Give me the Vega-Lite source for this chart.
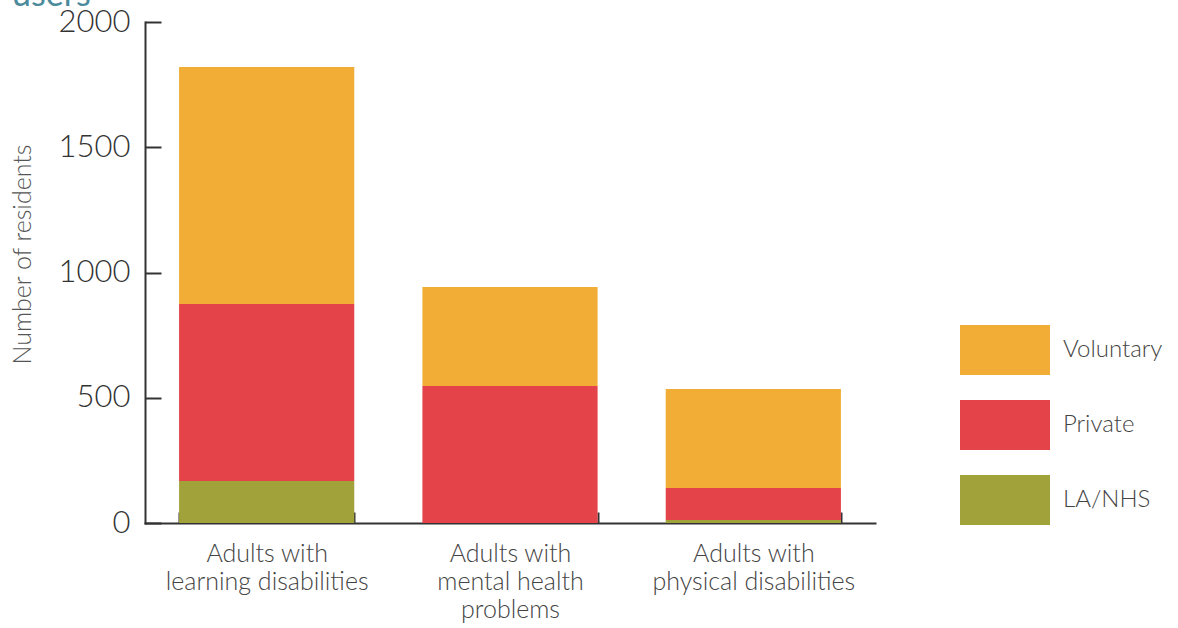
{
  "$schema": "https://vega.github.io/schema/vega-lite/v6.json",
  "width": 730,
  "height": 501,
  "autosize": "none",
  "padding": {"left": 145, "top": 22, "right": 303, "bottom": 105},
  "background": "white",
  "title": {
    "text": "users",
    "anchor": "start",
    "frame": "group",
    "orient": "top",
    "baseline": "alphabetic",
    "offset": 0,
    "dy": 34,
    "dx": -133,
    "fontSize": 34,
    "font": "Lato",
    "fontWeight": "normal",
    "color": "#4A8A9B"
  },
  "data": {
    "values": [
      {"group": "Adults with learning disabilities", "sector": "LA/NHS", "order": 1, "residents": 168},
      {"group": "Adults with learning disabilities", "sector": "Private", "order": 2, "residents": 706},
      {"group": "Adults with learning disabilities", "sector": "Voluntary", "order": 3, "residents": 946},
      {"group": "Adults with mental health problems", "sector": "LA/NHS", "order": 1, "residents": 0},
      {"group": "Adults with mental health problems", "sector": "Private", "order": 2, "residents": 547},
      {"group": "Adults with mental health problems", "sector": "Voluntary", "order": 3, "residents": 395},
      {"group": "Adults with physical disabilities", "sector": "LA/NHS", "order": 1, "residents": 12},
      {"group": "Adults with physical disabilities", "sector": "Private", "order": 2, "residents": 128},
      {"group": "Adults with physical disabilities", "sector": "Voluntary", "order": 3, "residents": 395}
    ]
  },
  "mark": {"type": "bar"},
  "encoding": {
    "x": {
      "field": "group",
      "type": "nominal",
      "sort": null,
      "scale": {"paddingInner": 0.28, "paddingOuter": 0.14},
      "axis": {
        "title": null,
        "labelAngle": 0,
        "labelExpr": "datum.value == 'Adults with learning disabilities' ? ['Adults with', 'learning disabilities'] : datum.value == 'Adults with mental health problems' ? ['Adults with', 'mental health', 'problems'] : datum.value == 'Adults with physical disabilities' ? ['Adults with', 'physical disabilities'] : ''",
        "labelFont": "Lato",
        "labelFontSize": 25,
        "labelFontWeight": 300,
        "labelColor": "#444444",
        "labelLineHeight": 28,
        "labelPadding": 29,
        "labelBaseline": "top",
        "labelLimit": 400,
        "tickBand": "extent",
        "tickSize": -11,
        "tickColor": "#333333",
        "tickWidth": 2,
        "domainColor": "#333333",
        "domainWidth": 2
      }
    },
    "y": {
      "field": "residents",
      "type": "quantitative",
      "stack": "zero",
      "scale": {"domain": [0, 2000], "nice": false},
      "axis": {
        "title": "Number of residents",
        "titleFont": "Lato",
        "titleFontSize": 25,
        "titleFontWeight": 300,
        "titleColor": "#555555",
        "titleX": -123,
        "titleY": 232,
        "titleAngle": 270,
        "titleAlign": "center",
        "titleBaseline": "middle",
        "titleLimit": 400,
        "values": [0, 500, 1000, 1500, 2000],
        "format": "d",
        "labelFont": "Lato",
        "labelFontSize": 31,
        "labelFontWeight": 300,
        "labelColor": "#333333",
        "labelPadding": 31,
        "tickSize": -16,
        "tickColor": "#333333",
        "tickWidth": 2,
        "domainColor": "#333333",
        "domainWidth": 2,
        "grid": false
      }
    },
    "color": {
      "field": "sector",
      "type": "nominal",
      "scale": {
        "domain": ["Voluntary", "Private", "LA/NHS"],
        "range": ["#F1AD36", "#E5434A", "#A2A23A"]
      },
      "legend": {
        "title": null,
        "orient": "none",
        "legendX": 835,
        "legendY": 303,
        "padding": 0,
        "symbolType": "M-1.8,-1L1.8,-1L1.8,1L-1.8,1Z",
        "symbolSize": 2500,
        "symbolStrokeWidth": 0,
        "symbolOpacity": 1,
        "rowPadding": 25,
        "labelOffset": 33,
        "labelFont": "Lato",
        "labelFontSize": 24,
        "labelFontWeight": 300,
        "labelColor": "#444444",
        "labelLimit": 300
      }
    },
    "order": {"field": "order", "type": "quantitative"}
  },
  "config": {
    "view": {"stroke": null},
    "axis": {"domainCap": "square"}
  }
}
